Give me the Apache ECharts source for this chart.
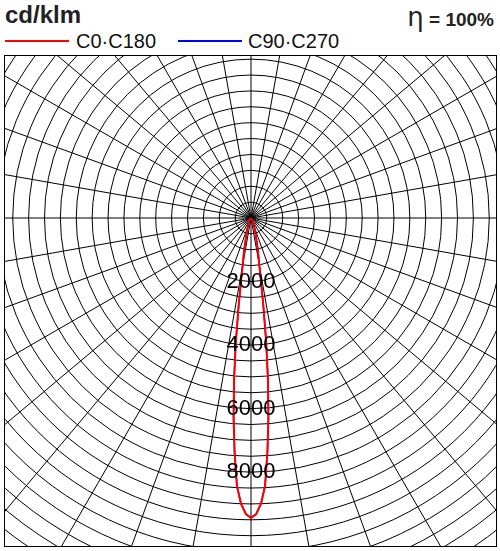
<!DOCTYPE html>
<html>
<head>
<meta charset="utf-8">
<script src="https://cdn.jsdelivr.net/npm/echarts@6/dist/echarts.min.js"></script>
<style>
body{margin:0;width:500px;height:551px;background:#fff;font-family:"Liberation Sans",Arial,sans-serif;position:relative;overflow:hidden}
#title{position:absolute;left:5px;top:1px;font-size:24px;font-weight:bold;color:#222}
#eta{position:absolute;right:6px;top:2px;font-size:19px;font-weight:bold;color:#222}
#eta span{font-weight:normal;font-size:26px;font-family:"DejaVu Sans"}
.leg{position:absolute;top:30px;font-size:20px;color:#111}
.ln{position:absolute;top:40px;height:2px;width:64px}
#box{position:absolute;left:4px;top:55px;width:491px;height:490px;border:1px solid #000;overflow:hidden}
#chart{position:absolute;left:-204px;top:-288px;width:900px;height:900px}
</style>
</head>
<body>
<div id="title">cd/klm</div>
<div id="eta"><span>η</span> = 100%</div>
<div class="ln" style="left:5px;background:#f00"></div>
<div class="leg" style="left:76px">C0·C180</div>
<div class="ln" style="left:178px;background:#00f"></div>
<div class="leg" style="left:248px">C90·C270</div>
<div id="box"><div id="chart"></div></div>
<script>
// half-plane angles (deg from nadir) and intensities in cd/klm
var angles = [0, 1, 2, 3, 4, 5, 6, 7, 8, 9, 10, 12, 15, 20, 30, 45, 60, 90, 120, 180];
var c0c180 = [9440, 9320, 9000, 8450, 7400, 6300, 5100, 3900, 2800, 2000, 1500, 1050, 600, 300, 150, 80, 40, 10, 0, 0];
var c90c270 = [9440, 9320, 9000, 8450, 7400, 6300, 5100, 3900, 2800, 2000, 1500, 1050, 600, 300, 150, 80, 40, 10, 0, 0];
var tickLabels = [2000, 4000, 6000, 8000];

function curve(vals){
  var pts = [];
  for (var i = angles.length - 1; i > 0; i--) pts.push([vals[i], 360 - angles[i]]);
  for (var j = 0; j < angles.length; j++) pts.push([vals[j], angles[j]]);
  return pts;
}

var chart = echarts.init(document.getElementById('chart'));
chart.setOption({
  animation: false,
  polar: {center: ['50%', '50%'], radius: 413},
  angleAxis: {
    type: 'value', min: 0, max: 360, interval: 10, startAngle: 270, clockwise: true,
    axisLine: {show: false}, axisTick: {show: false}, axisLabel: {show: false},
    splitLine: {lineStyle: {color: '#000', width: 1}}
  },
  radiusAxis: {
    type: 'value', min: 0, max: 13000, interval: 500,
    axisLine: {show: false}, axisTick: {show: false}, axisLabel: {show: false},
    splitLine: {lineStyle: {color: '#000', width: 1}}
  },
  series: [
    {type: 'line', coordinateSystem: 'polar', data: curve(c90c270), symbol: 'none',
     lineStyle: {color: '#00f', width: 1.5}},
    {type: 'line', coordinateSystem: 'polar', data: curve(c0c180), symbol: 'none',
     lineStyle: {color: '#f00', width: 2}},
    {type: 'scatter', coordinateSystem: 'polar', symbolSize: 1, z: 20, zlevel: 1,
     itemStyle: {opacity: 0},
     data: tickLabels.map(function(v){ return [v, 0]; }),
     label: {show: true, position: 'inside', formatter: function(p){ return p.value[0]; },
       fontSize: 22, color: '#000', opacity: 1, fontFamily: 'Liberation Sans'}}
  ]
});
</script>
</body>
</html>
